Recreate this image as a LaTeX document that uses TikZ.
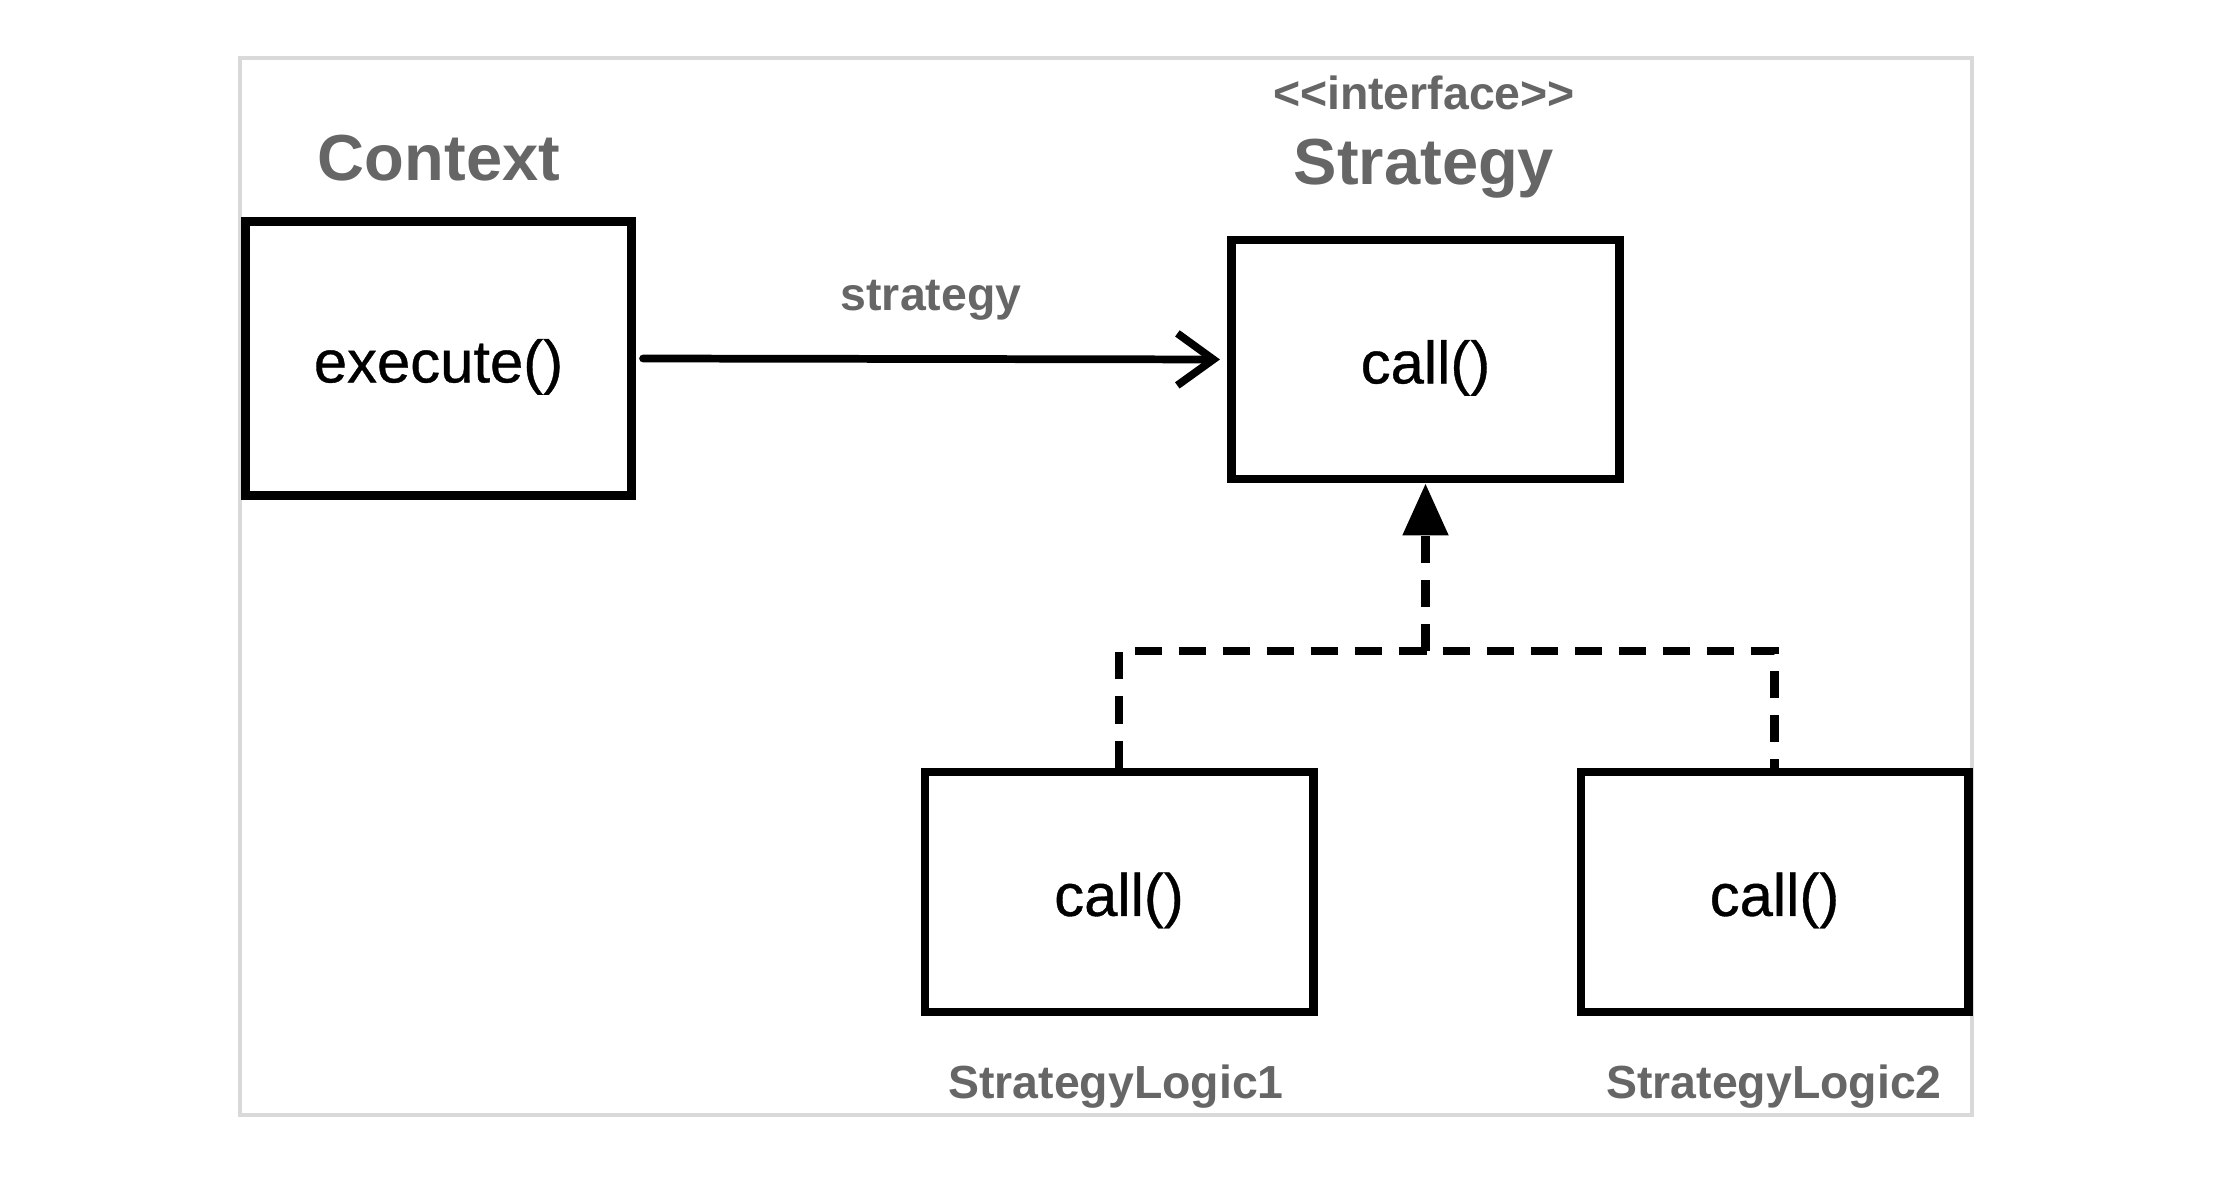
\documentclass[tikz,border=0pt]{standalone}
\usepackage{fontspec}
\setmainfont{Liberation Sans}
\newfontfamily\medfont[FakeBold=0.6]{Liberation Sans}
\usetikzlibrary{arrows.meta}
\definecolor{labelgray}{HTML}{666666}
\definecolor{framegray}{HTML}{D9D9D9}
% method text, set a little below the middle of its box
\newcommand{\op}[1]{\raisebox{-2.4pt}[\height][\depth]{#1}}

\begin{document}
\begin{tikzpicture}[x=0.01cm,y=-0.01cm,
  box/.style={draw=black, line width=2.5pt, fill=white, inner sep=0pt,
    font=\medfont\fontsize{17}{20}\selectfont},
  title/.style={text=labelgray, anchor=base, inner sep=0pt,
    font=\bfseries\fontsize{18.5}{22}\selectfont},
  caption/.style={text=labelgray, anchor=base, inner sep=0pt,
    font=\bfseries\fontsize{13.2}{16}\selectfont},
  realize/.style={line width=2.4pt, dash pattern=on 0.27cm off 0.17cm},
  assoc/.style={line width=2.2pt, line cap=round,
    -{Straight Barb[length=0.36cm,width=0.52cm,line width=2.2pt]}}
]
  % canvas and outer frame
  \useasboundingbox (0,0) rectangle (2218,1186);
  \fill[white] (0,0) rectangle (2218,1186);
  \draw[framegray, line width=0.9pt] (240,58) rectangle (1972,1115);

  % classes
  \node[box, minimum width=3.86cm, minimum height=2.74cm] (ctx) at (438.5,358.5) {\op{execute()}};
  \node[box, minimum width=3.88cm, minimum height=2.39cm] (str) at (1425.5,359.5) {\op{call()}};
  \node[box, minimum width=3.88cm, minimum height=2.40cm] (sl1) at (1119,892) {\op{call()}};
  \node[box, minimum width=3.87cm, minimum height=2.40cm] (sl2) at (1774.5,892) {\op{call()}};

  % class names
  \node[title] (ctxname) at (439,181) {Context};
  \node[caption] (stereo) at (1424,110) {<{}<interface>{}>};
  \node[title] (strname) at (1424,185) {Strategy};
  \node[caption] (sl1name) at (1116,1098) {StrategyLogic1};
  \node[caption] (sl2name) at (1774,1098) {StrategyLogic2};

  % association Context -> Strategy
  \draw[assoc, shorten <=2pt, shorten >=2pt] (ctx.east) -- (str.west);
  \node[caption] (assocname) at (931,311) {strategy};

  % realization of the interface
  \coordinate (joint) at (str.south |- 0,651);
  \draw[realize] (sl1.north) |- (joint) -| (sl2.north);
  \draw[realize, -{Triangle[length=0.52cm,width=0.44cm]}] (joint) -- (str.south);
\end{tikzpicture}
\end{document}
